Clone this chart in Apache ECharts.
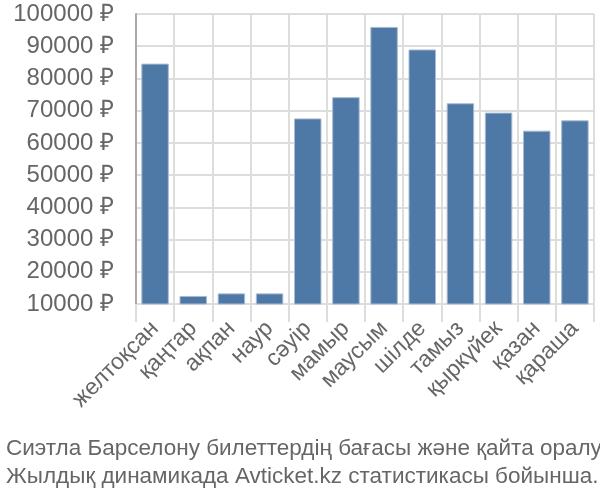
<!DOCTYPE html>
<html><head><meta charset="utf-8">
<script src="https://cdn.jsdelivr.net/npm/echarts@6/dist/echarts.min.js"></script>
<style>html,body{margin:0;padding:0;background:#fff}#c{width:600px;height:500px}</style>
</head><body><div id="c"></div>
<script>
var categories = ['желтоқсан','қаңтар','ақпан','наур','сәуір','мамыр','маусым','шілде','тамыз','қыркүйек','қазан','қараша'];
var prices = [84600, 12500, 13300, 13300, 67600, 74200, 96000, 89000, 72300, 69400, 63800, 67000];
var yMin = 10000, yMax = 100000, yStep = 10000;
var titleLines = ['Сиэтла Барселону билеттердің бағасы және қайта оралу', 'Жылдық динамикада Avticket.kz статистикасы бойынша.'];

var chart = echarts.init(document.getElementById('c'), null, {renderer:'canvas'});
chart.setOption({
  animation: false,
  textStyle: {fontFamily: 'Liberation Sans, Arial, sans-serif'},
  title: {
    text: titleLines.join('\n'),
    left: 1, top: 430,
    textStyle: {fontSize: 22.5, fontWeight: 'normal', color: '#666', lineHeight: 28, fontFamily: 'Liberation Sans, Arial, sans-serif'}
  },
  grid: {left: 136, right: 6, top: 14, bottom: 196, containLabel: false},
  xAxis: {
    type: 'category', data: categories,
    axisLine: {show: false},
    axisTick: {show: true, length: 18, lineStyle: {color: '#ddd', width: 2}},
    splitLine: {show: true, lineStyle: {color: '#ddd', width: 2}},
    axisLabel: {rotate: 45, fontSize: 23, color: '#666', margin: 21, interval: 0}
  },
  yAxis: {
    type: 'value', min: yMin, max: yMax, interval: yStep,
    axisLine: {show: true, lineStyle: {color: '#aaa', width: 2}},
    axisTick: {show: false},
    splitLine: {show: true, lineStyle: {color: '#ddd', width: 2}},
    axisLabel: {fontSize: 24, color: '#666', margin: 22, formatter: function(v){return v + ' ₽';}}
  },
  series: [{
    type: 'bar', data: prices, barCategoryGap: '28%',
    itemStyle: {color: '#4e78a6', borderColor: '#a9bcd4', borderWidth: 1}
  }]
});
</script></body></html>
